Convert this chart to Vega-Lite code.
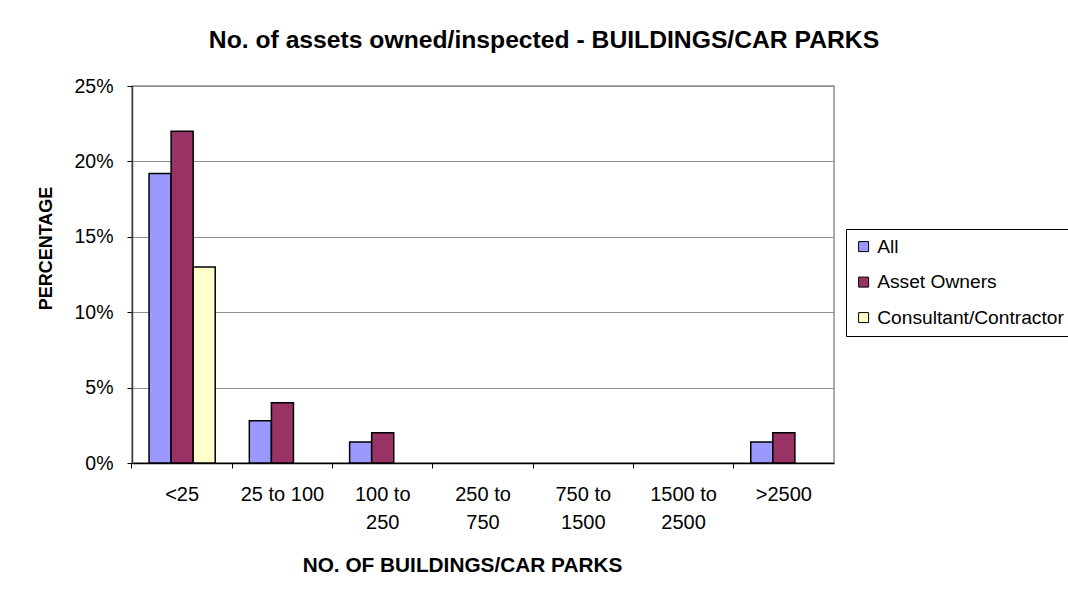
{
  "$schema": "https://vega.github.io/schema/vega-lite/v6.json",
  "width": 702,
  "height": 377,
  "autosize": {"type": "none"},
  "padding": {"left": 132, "top": 86, "right": 234, "bottom": 136},
  "background": "white",
  "title": {
    "text": "No. of assets owned/inspected - BUILDINGS/CAR PARKS",
    "font": "Liberation Sans",
    "fontSize": 24.7,
    "fontWeight": "bold",
    "color": "black",
    "anchor": "middle",
    "dx": 61,
    "offset": 23
  },
  "data": {
    "values": [
      {"range": "<25", "group": "All", "pct": 0.192},
      {"range": "<25", "group": "Asset Owners", "pct": 0.22},
      {"range": "<25", "group": "Consultant/Contractor", "pct": 0.13},
      {"range": "25 to 100", "group": "All", "pct": 0.028},
      {"range": "25 to 100", "group": "Asset Owners", "pct": 0.04},
      {"range": "25 to 100", "group": "Consultant/Contractor", "pct": 0},
      {"range": "100 to 250", "group": "All", "pct": 0.014},
      {"range": "100 to 250", "group": "Asset Owners", "pct": 0.02},
      {"range": "100 to 250", "group": "Consultant/Contractor", "pct": 0},
      {"range": "250 to 750", "group": "All", "pct": 0},
      {"range": "250 to 750", "group": "Asset Owners", "pct": 0},
      {"range": "250 to 750", "group": "Consultant/Contractor", "pct": 0},
      {"range": "750 to 1500", "group": "All", "pct": 0},
      {"range": "750 to 1500", "group": "Asset Owners", "pct": 0},
      {"range": "750 to 1500", "group": "Consultant/Contractor", "pct": 0},
      {"range": "1500 to 2500", "group": "All", "pct": 0},
      {"range": "1500 to 2500", "group": "Asset Owners", "pct": 0},
      {"range": "1500 to 2500", "group": "Consultant/Contractor", "pct": 0},
      {"range": ">2500", "group": "All", "pct": 0.014},
      {"range": ">2500", "group": "Asset Owners", "pct": 0.02},
      {"range": ">2500", "group": "Consultant/Contractor", "pct": 0}
    ]
  },
  "transform": [{"filter": "datum.pct > 0"}],
  "mark": {"type": "bar", "stroke": "black", "strokeWidth": 1.5},
  "encoding": {
    "x": {
      "field": "range",
      "type": "nominal",
      "scale": {
        "domain": ["<25", "25 to 100", "100 to 250", "250 to 750", "750 to 1500", "1500 to 2500", ">2500"],
        "paddingInner": 0.34,
        "paddingOuter": 0.17
      },
      "axis": {
        "title": "NO. OF BUILDINGS/CAR PARKS",
        "titleFont": "Liberation Sans",
        "titleFontSize": 20.8,
        "titleFontWeight": "bold",
        "titleColor": "black",
        "titlePadding": 23,
        "titleX": 330,
        "labelAngle": 0,
        "labelFont": "Liberation Sans",
        "labelFontSize": 20,
        "labelColor": "black",
        "labelPadding": 16,
        "labelLineHeight": 28,
        "labelExpr": "(indexof(datum.value,' to ')>=0 && datum.value != '25 to 100') ? [slice(datum.value,0,indexof(datum.value,' to ')+3), slice(datum.value,indexof(datum.value,' to ')+4)] : datum.value",
        "bandPosition": -0.2576,
        "tickSize": 5,
        "tickColor": "black",
        "domainColor": "black",
        "domainWidth": 1.5,
        "grid": false
      }
    },
    "xOffset": {
      "field": "group",
      "type": "nominal",
      "sort": ["All", "Asset Owners", "Consultant/Contractor"],
      "scale": {"paddingInner": 0, "paddingOuter": 0}
    },
    "y": {
      "field": "pct",
      "type": "quantitative",
      "scale": {"domain": [0, 0.25]},
      "axis": {
        "title": "PERCENTAGE",
        "titleFont": "Liberation Sans",
        "titleFontSize": 18,
        "titleFontWeight": "bold",
        "titleColor": "black",
        "titlePadding": 18,
        "titleY": 162,
        "format": ".0%",
        "values": [0, 0.05, 0.1, 0.15, 0.2, 0.25],
        "labelFont": "Liberation Sans",
        "labelFontSize": 19.5,
        "labelColor": "black",
        "labelPadding": 14,
        "tickSize": 5,
        "tickColor": "black",
        "domainColor": "#404040",
        "domainWidth": 1.5,
        "gridColor": "#909090",
        "gridWidth": 1
      }
    },
    "color": {
      "field": "group",
      "type": "nominal",
      "scale": {
        "domain": ["All", "Asset Owners", "Consultant/Contractor"],
        "range": ["#9999FF", "#993366", "#FFFFCC"]
      },
      "legend": {
        "title": null,
        "orient": "none",
        "legendX": 714,
        "legendY": 143,
        "strokeColor": "black",
        "padding": 8,
        "symbolType": "square",
        "symbolSize": 100,
        "symbolStrokeColor": "black",
        "symbolStrokeWidth": 1,
        "labelFont": "Liberation Sans",
        "labelFontSize": 19.2,
        "labelColor": "black",
        "labelLimit": 400,
        "rowPadding": 15.5,
        "labelOffset": 4
      }
    }
  },
  "config": {
    "view": {"stroke": "#909090", "strokeWidth": 1.5}
  }
}
